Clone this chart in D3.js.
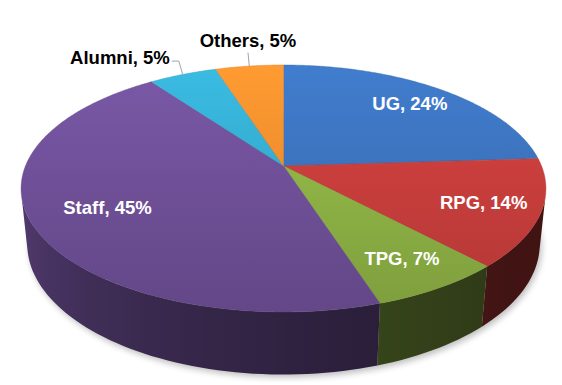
<!DOCTYPE html>
<html>
<head>
<meta charset="utf-8">
<script src="https://cdn.jsdelivr.net/npm/d3@7"></script>
<style>
	html, body { margin: 0; padding: 0; background: #fff; }
	svg { display: block; }
	.label { font-family: 'Liberation Sans', Arial, sans-serif; font-weight: bold; font-size: 18.5px; }
</style>
</head>
<body>
<div id="chart"></div>
<script>
// data
const categories = ['UG', 'RPG', 'TPG', 'Staff', 'Alumni', 'Others'];
const values = [24, 14, 7, 45, 5, 5];
const colors = ['#3a70b9', '#c53d3b', '#8cb044', '#6e4f96', '#34a9cc', '#f28b2c'];

const width = 562;
const height = 385;

// perspective camera for the tilted disc (unit radius)
const cam = { x0: 283.5, y0: 166, focal: 1257, dist: 4.871, elev: 27.56 * Math.PI / 180 };
const thickness = 0.245;
const cosE = Math.cos(cam.elev);
const sinE = Math.sin(cam.elev);

const project = (X, Y, Z) => {
	const depth = cam.dist - Y * cosE - Z * sinE;
	return [cam.x0 + cam.focal * X / depth, cam.y0 - cam.focal * (Z * cosE - Y * sinE) / depth];
};

// angle measured clockwise from 12 o'clock, Y points toward viewer
const rim = (a, r, z) => project(r * Math.sin(a), -r * Math.cos(a), z);

const steps = (a0, a1, n) => d3.range(n + 1).map(i => a0 + (a1 - a0) * i / n);

const svg = d3.select('#chart')
	.append('svg')
	.attr('width', width)
	.attr('height', height)
	.attr('viewBox', [0, 0, width, height]);

const defs = svg.append('defs');

defs.append('filter')
	.attr('id', 'shadow')
	.attr('x', '-10%').attr('y', '-10%')
	.attr('width', '120%').attr('height', '130%')
	.append('feGaussianBlur')
	.attr('stdDeviation', 3);

const pie = d3.pie().sort(null).value(d => d.value)
	.startAngle(0).endAngle(2 * Math.PI);

const arcs = pie(categories.map((c, i) => ({ name: c, value: values[i], color: colors[i] })));

// top face gradients
arcs.forEach((d, i) => {
	const g = defs.append('linearGradient')
		.attr('id', `top-${i}`)
		.attr('gradientUnits', 'userSpaceOnUse')
		.attr('x1', 0).attr('y1', rim(0, 1, 0)[1])
		.attr('x2', 0).attr('y2', rim(Math.PI, 1, 0)[1]);
	g.append('stop').attr('offset', 0).attr('stop-color', d3.color(d.data.color).brighter(0.3));
	g.append('stop').attr('offset', 1).attr('stop-color', d3.color(d.data.color).darker(0.3));
});

const line = d3.line();

// soft shadow under the disc
svg.append('path')
	.attr('d', line(steps(0, 2 * Math.PI, 180).map(a => rim(a, 1, -thickness))) + 'Z')
	.attr('transform', 'translate(2,3)')
	.attr('fill', '#000')
	.attr('opacity', 0.25)
	.attr('filter', 'url(#shadow)');

// side walls, only the part that faces the viewer
const yMin = 1 / (cam.dist * cosE);
const aVis0 = Math.acos(-yMin);
const aVis1 = 2 * Math.PI - aVis0;

// darker toward the front-right, lighter toward the left
const sideShade = a => {
	let t = (a - 2.2) / (4.45 - 2.2);
	t = Math.max(0, Math.min(1, t));
	return 0.33 + 0.42 * Math.pow(t, 1.6);
};

const sides = svg.append('g').attr('class', 'sides');

arcs.forEach((d, i) => {
	const a0 = Math.max(d.startAngle, aVis0);
	const a1 = Math.min(d.endAngle, aVis1);
	if (a1 <= a0) return;

	const base = d3.rgb(d.data.color);
	const angles = steps(a0, a1, Math.max(2, Math.ceil((a1 - a0) / 0.03)));
	const xa = rim(a0, 1, 0)[0];
	const xb = rim(a1, 1, 0)[0];

	const g = defs.append('linearGradient')
		.attr('id', `side-${i}`)
		.attr('gradientUnits', 'userSpaceOnUse')
		.attr('x1', xa).attr('y1', 0)
		.attr('x2', xb).attr('y2', 0);

	angles.forEach(a => {
		const s = sideShade(a);
		g.append('stop')
			.attr('offset', (rim(a, 1, 0)[0] - xa) / (xb - xa))
			.attr('stop-color', d3.rgb(base.r * s, base.g * s, base.b * s).formatHex());
	});

	const pts = angles.map(a => rim(a, 1, 0))
		.concat(angles.slice().reverse().map(a => rim(a, 1, -thickness)));

	sides.append('path')
		.attr('d', line(pts) + 'Z')
		.attr('fill', `url(#side-${i})`);
});

// top faces
svg.append('g')
	.attr('class', 'tops')
	.selectAll('path')
	.data(arcs)
	.join('path')
	.attr('d', d => {
		const n = Math.max(4, Math.ceil((d.endAngle - d.startAngle) / 0.01));
		return line([project(0, 0, 0)].concat(steps(d.startAngle, d.endAngle, n).map(a => rim(a, 1, 0)))) + 'Z';
	})
	.attr('fill', (d, i) => `url(#top-${i})`)
	.attr('stroke', d => d3.color(d.data.color).darker(0.3))
	.attr('stroke-width', 0.4);

// labels
const labels = svg.append('g').attr('class', 'labels');

arcs.forEach(d => {
	const mid = (d.startAngle + d.endAngle) / 2;
	const text = `${d.data.name}, ${d.data.value}%`;

	if (d.data.value >= 6) {
		// big slices keep a bit closer to the middle
		const p = rim(mid, d.data.value > 30 ? 0.72 : 0.79, 0);
		labels.append('text')
			.attr('class', 'label')
			.attr('x', p[0])
			.attr('y', p[1])
			.attr('dy', '0.36em')
			.attr('text-anchor', 'middle')
			.attr('fill', '#fff')
			.text(text);
		return;
	}

	// small slices: label outside with a leader line
	const p0 = rim(mid, 1, 0);
	const p1 = rim(mid, 1.04, 0.05);
	const toLeft = Math.sin(mid) < -0.3;
	const pts = toLeft ? [p0, p1, [p1[0] - 7, p1[1]]] : [p0, p1];

	labels.append('path')
		.attr('d', line(pts))
		.attr('fill', 'none')
		.attr('stroke', '#9aa6b2')
		.attr('stroke-width', 1);

	labels.append('text')
		.attr('class', 'label')
		.attr('x', toLeft ? p1[0] - 9 : p1[0])
		.attr('y', toLeft ? p1[1] + 3 : p1[1] - 6)
		.attr('text-anchor', toLeft ? 'end' : 'middle')
		.attr('fill', '#000')
		.text(text);
});
</script>
</body>
</html>
